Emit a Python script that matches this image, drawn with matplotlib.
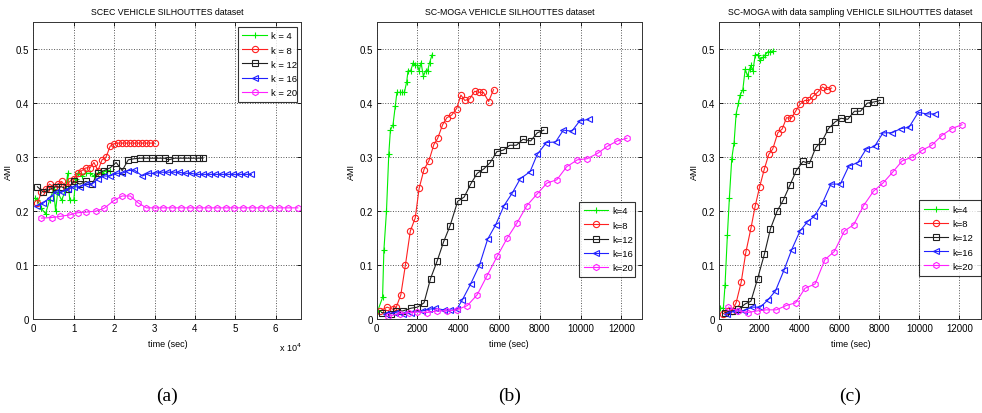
import matplotlib
matplotlib.use("Agg")
import matplotlib.pyplot as plt
from matplotlib.ticker import FuncFormatter

plt.rcParams['font.family'] = ['Liberation Sans', 'DejaVu Sans']

# ---- data: panel (a) SCEC, time in seconds ----
a_k4_t = [500, 1000, 2000, 3000, 4000, 5000, 5500, 6000, 7000, 8000, 8500, 9000, 10000,
          10500, 11000, 12000, 13000, 14000, 15000, 16000, 17000, 18000, 19000]
a_k4_y = [0.225, 0.22, 0.205, 0.195, 0.22, 0.24, 0.20, 0.235, 0.22, 0.24, 0.27, 0.22, 0.22,
          0.26, 0.27, 0.265, 0.27, 0.27, 0.265, 0.27, 0.27, 0.275, 0.275]
a_k8_t = [1000, 2000, 3000, 4000, 5000, 6000, 7000, 8000, 9000, 10000, 11000, 12000, 13000,
          14000, 15000, 16000, 17000, 18000, 19000, 20000, 21000, 22000, 23000, 24000, 25000,
          26000, 27000, 28000, 29000, 30000]
a_k8_y = [0.215, 0.235, 0.24, 0.25, 0.245, 0.25, 0.255, 0.245, 0.255, 0.26, 0.27, 0.275, 0.28,
          0.28, 0.29, 0.275, 0.295, 0.30, 0.32, 0.325, 0.326, 0.326, 0.326, 0.326, 0.326,
          0.326, 0.326, 0.326, 0.326, 0.326]
a_k12_t = [1000, 2500, 4000, 5500, 7000, 8500, 10000, 11500, 13000, 14500, 16000, 17500,
           19000, 20500, 22000, 23500, 25000, 26500, 28000, 29500, 31000, 32500, 33500,
           35000, 36500, 38000, 39500, 41000, 42000]
a_k12_y = [0.245, 0.235, 0.24, 0.245, 0.245, 0.24, 0.255, 0.25, 0.255, 0.25, 0.27, 0.275,
           0.28, 0.29, 0.275, 0.295, 0.297, 0.298, 0.298, 0.298, 0.298, 0.298, 0.295,
           0.298, 0.298, 0.298, 0.298, 0.298, 0.298]
a_k16_t = [1000, 2500, 4000, 5500, 7000, 8500, 10000, 11500, 13000, 14500, 16000, 17500,
           19000, 20500, 22000, 23500, 25000, 27000, 28500, 30000, 31500, 33000, 34500,
           36000, 37500, 39000, 40500, 42000, 43500, 45000, 46500, 48000, 49500, 51000,
           52500, 54000]
a_k16_y = [0.21, 0.215, 0.225, 0.235, 0.235, 0.24, 0.245, 0.245, 0.25, 0.25, 0.26, 0.265,
           0.265, 0.27, 0.27, 0.275, 0.276, 0.265, 0.27, 0.27, 0.272, 0.272, 0.272,
           0.272, 0.27, 0.27, 0.268, 0.268, 0.268, 0.268, 0.268, 0.268, 0.268, 0.268,
           0.268, 0.268]
a_k20_t = [2000, 4500, 6500, 9000, 11000, 13000, 15500, 17500, 20000, 22000, 24000, 26000,
           28000, 30000, 32200, 34400, 36600, 38800, 41000, 43200, 45400, 47600, 49800,
           52000, 54200, 56400, 58600, 60800, 63000, 65500]
a_k20_y = [0.187, 0.188, 0.19, 0.193, 0.197, 0.198, 0.2, 0.205, 0.22, 0.228, 0.228, 0.215,
           0.206, 0.206, 0.206, 0.206, 0.206, 0.206, 0.206, 0.206, 0.206, 0.206, 0.206,
           0.206, 0.206, 0.206, 0.206, 0.206, 0.206, 0.206]

# ---- data: panel (b) SC-MOGA ----
b_k4_t = [50, 288, 352, 480, 592, 672, 800, 912, 992, 1120, 1248, 1360, 1472, 1536, 1664,
          1792, 1888, 2000, 2080, 2176, 2288, 2400, 2496, 2592, 2720]
b_k4_y = [0.015, 0.04, 0.127, 0.2, 0.305, 0.35, 0.36, 0.395, 0.42, 0.42, 0.42, 0.42, 0.44,
          0.46, 0.46, 0.475, 0.47, 0.47, 0.46, 0.475, 0.45, 0.46, 0.46, 0.475, 0.49]
b_k8_t = [160, 512, 800, 960, 1184, 1408, 1648, 1888, 2080, 2320, 2560, 2800, 2992, 3232,
          3440, 3680, 3920, 4128, 4320, 4560, 4800, 5040, 5232, 5488, 5728]
b_k8_y = [0.015, 0.022, 0.018, 0.022, 0.045, 0.1, 0.163, 0.187, 0.242, 0.277, 0.293, 0.323,
          0.335, 0.36, 0.373, 0.378, 0.39, 0.415, 0.405, 0.408, 0.422, 0.42, 0.42, 0.403, 0.425]
b_k12_t = [240, 720, 960, 1280, 1680, 2000, 2320, 2640, 2960, 3280, 3600, 3968, 4288, 4608,
           4928, 5248, 5568, 5888, 6208, 6528, 6848, 7168, 7552, 7872, 8192]
b_k12_y = [0.012, 0.01, 0.015, 0.015, 0.02, 0.022, 0.03, 0.075, 0.107, 0.143, 0.173, 0.218,
           0.226, 0.25, 0.27, 0.278, 0.29, 0.31, 0.313, 0.322, 0.322, 0.333, 0.33, 0.345, 0.35]
b_k16_t = [480, 880, 1280, 1680, 2240, 2560, 2880, 3280, 3600, 3920, 4192, 4608, 5040, 5440,
           5840, 6240, 6640, 7040, 7520, 7872, 8320, 8768, 9152, 9568, 9952, 10400]
b_k16_y = [0.01, 0.012, 0.01, 0.012, 0.015, 0.018, 0.02, 0.017, 0.016, 0.018, 0.035, 0.065,
           0.1, 0.148, 0.175, 0.21, 0.233, 0.26, 0.273, 0.305, 0.327, 0.328, 0.35, 0.348,
           0.367, 0.37]
b_k20_t = [560, 1120, 1600, 2000, 2480, 2960, 3440, 3920, 4448, 4928, 5408, 5920, 6400, 6880,
           7360, 7872, 8352, 8832, 9312, 9840, 10320, 10832, 11312, 11792, 12272]
b_k20_y = [0.005, 0.01, 0.012, 0.013, 0.012, 0.015, 0.015, 0.017, 0.025, 0.045, 0.08, 0.117,
           0.15, 0.178, 0.21, 0.232, 0.252, 0.258, 0.282, 0.295, 0.297, 0.307, 0.32, 0.33,
           0.335]

# ---- data: panel (c) SC-MOGA with data sampling ----
c_k4_t = [34, 202, 286, 403, 504, 622, 739, 840, 958, 1042, 1176, 1294, 1412, 1513, 1580,
          1681, 1798, 1916, 2050, 2185, 2303, 2420, 2555, 2689]
c_k4_y = [0.02, 0.02, 0.063, 0.155, 0.225, 0.297, 0.327, 0.38, 0.4, 0.415, 0.425, 0.463,
          0.45, 0.463, 0.47, 0.46, 0.49, 0.49, 0.48, 0.485, 0.49, 0.495, 0.495, 0.497]
c_k8_t = [202, 454, 622, 840, 1092, 1328, 1580, 1798, 2017, 2252, 2471, 2672, 2924, 3143,
          3361, 3597, 3815, 4034, 4269, 4487, 4706, 4908, 5160, 5378, 5613]
c_k8_y = [0.01, 0.015, 0.015, 0.03, 0.068, 0.124, 0.168, 0.21, 0.245, 0.278, 0.305, 0.315,
          0.345, 0.352, 0.373, 0.372, 0.385, 0.398, 0.405, 0.405, 0.413, 0.42, 0.43, 0.425,
          0.428]
c_k12_t = [286, 622, 958, 1294, 1580, 1916, 2252, 2555, 2891, 3193, 3529, 3849, 4185, 4504,
           4824, 5143, 5462, 5782, 6084, 6420, 6756, 7059, 7395, 7714, 8050]
c_k12_y = [0.012, 0.015, 0.018, 0.028, 0.033, 0.075, 0.12, 0.167, 0.2, 0.22, 0.248, 0.275,
           0.292, 0.288, 0.318, 0.33, 0.353, 0.365, 0.372, 0.37, 0.385, 0.385, 0.4, 0.402,
           0.405]
c_k16_t = [370, 790, 1210, 1630, 2050, 2420, 2807, 3227, 3613, 4034, 4403, 4739, 5160, 5580,
           6050, 6471, 6924, 7345, 7765, 8185, 8639, 9076, 9479, 9950, 10370, 10790]
c_k16_y = [0.01, 0.015, 0.015, 0.022, 0.022, 0.035, 0.052, 0.09, 0.128, 0.163, 0.18, 0.19,
           0.215, 0.25, 0.25, 0.283, 0.29, 0.315, 0.32, 0.345, 0.345, 0.353, 0.355, 0.383,
           0.38, 0.38]
c_k20_t = [454, 958, 1412, 1882, 2353, 2857, 3345, 3815, 4286, 4790, 5277, 5748, 6252, 6723,
           7210, 7714, 8185, 8689, 9143, 9647, 10151, 10622, 11126, 11630, 12134]
c_k20_y = [0.022, 0.015, 0.012, 0.015, 0.017, 0.017, 0.025, 0.03, 0.057, 0.065, 0.11, 0.125,
           0.163, 0.175, 0.21, 0.237, 0.252, 0.273, 0.293, 0.3, 0.313, 0.322, 0.34, 0.353,
           0.36]

colors = ['#00ee00', '#ff2020', '#202020', '#2020ff', '#ff20ff']
markers = ['+', 'o', 's', '<', 'h']
ks = [4, 8, 12, 16, 20]

titles = ['SCEC VEHICLE SILHOUTTES dataset',
          'SC-MOGA VEHICLE SILHOUTTES dataset',
          'SC-MOGA with data sampling VEHICLE SILHOUTTES dataset']
panels = [
    [(a_k4_t, a_k4_y), (a_k8_t, a_k8_y), (a_k12_t, a_k12_y), (a_k16_t, a_k16_y), (a_k20_t, a_k20_y)],
    [(b_k4_t, b_k4_y), (b_k8_t, b_k8_y), (b_k12_t, b_k12_y), (b_k16_t, b_k16_y), (b_k20_t, b_k20_y)],
    [(c_k4_t, c_k4_y), (c_k8_t, c_k8_y), (c_k12_t, c_k12_y), (c_k16_t, c_k16_y), (c_k20_t, c_k20_y)],
]
xlims = [66400, 13000, 13100]
lefts = [0.034, 0.3836, 0.7325]
widths = [0.273, 0.270, 0.2668]
legend_boxes = [(0.762, 0.69, 0.22, 0.295), (0.763, 0.105, 0.21, 0.29), (0.762, 0.11, 0.235, 0.29)]
sublabels = ['(a)', '(b)', '(c)']

fig = plt.figure(figsize=(9.82, 4.14), dpi=100)

for i in range(3):
    ax = fig.add_axes([lefts[i], 0.227, widths[i], 0.717])
    for j in range(5):
        t, y = panels[i][j]
        if i == 0:
            lab = 'k = %d' % ks[j]
        else:
            lab = 'k=%d' % ks[j]
        mfc = colors[j] if markers[j] == '+' else 'none'
        ax.plot(t, y, color=colors[j], marker=markers[j], markersize=4.5 if markers[j] != '+' else 5,
                mfc=mfc, mew=0.8, lw=0.8, label=lab)
    ax.set_xlim(0, xlims[i])
    ax.set_ylim(0, 0.55)
    ax.set_yticks([0, 0.1, 0.2, 0.3, 0.4, 0.5])
    ax.yaxis.set_major_formatter(FuncFormatter(lambda v, p: '0' if v == 0 else '%.1f' % v))
    if i == 0:
        ax.set_xticks([0, 10000, 20000, 30000, 40000, 50000, 60000])
        ax.xaxis.set_major_formatter(FuncFormatter(lambda v, p: '%d' % round(v / 10000)))
        ax.text(1.0, -0.095, r'x 10$^4$', transform=ax.transAxes, fontsize=6.5,
                ha='right', va='center')
    else:
        ax.set_xticks([0, 2000, 4000, 6000, 8000, 10000, 12000])
    ax.grid(True, linestyle=':', color='#555555', linewidth=0.7)
    ax.tick_params(direction='in', top=True, right=True, labelsize=7, length=3, width=0.6,
                   pad=3)
    for s in ax.spines.values():
        s.set_linewidth(0.7)
        s.set_color('#333333')
    ax.set_title(titles[i], fontsize=6.3, pad=6)
    ax.set_xlabel('time (sec)', fontsize=6.5, labelpad=4)
    ax.set_ylabel('AMI', fontsize=6.5, labelpad=2)
    ax.legend(loc='upper left', bbox_to_anchor=legend_boxes[i], mode='expand',
              fontsize=6.8, frameon=True, fancybox=False, edgecolor='black',
              handlelength=2.6, borderaxespad=0, labelspacing=0.55, borderpad=0.5,
              handletextpad=0.4)
    ax.get_legend().get_frame().set_linewidth(0.8)
    fig.text(lefts[i] + widths[i] / 2, 0.042, sublabels[i], fontsize=14,
             family=['Liberation Serif', 'DejaVu Serif'], ha='center', va='center')

fig.savefig('out.png', dpi=100)
